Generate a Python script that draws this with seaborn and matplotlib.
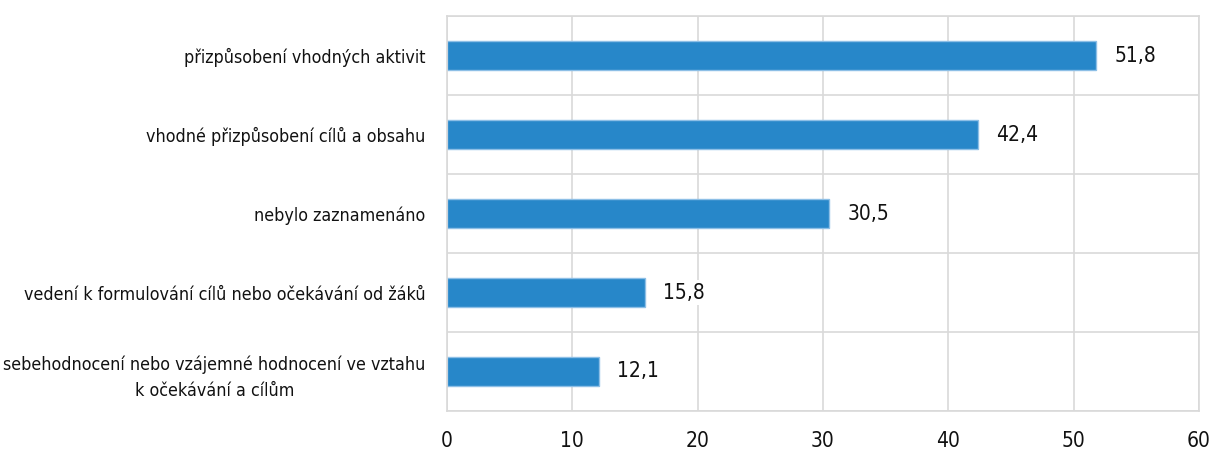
import numpy as np
import pandas as pd
import seaborn as sns
import matplotlib.pyplot as plt

categories = [
    "přizpůsobení vhodných aktivit",
    "vhodné přizpůsobení cílů a obsahu",
    "nebylo zaznamenáno",
    "vedení k formulování cílů nebo očekávání od žáků",
    "sebehodnocení nebo vzájemné hodnocení ve vztahu\nk očekávání a cílům",
]
values = [51.8, 42.4, 30.5, 15.8, 12.1]
x_ticks = [0, 10, 20, 30, 40, 50, 60]

df = pd.DataFrame({"kategorie": categories, "hodnota": values})

sns.set_style("white")
plt.rcParams["font.family"] = ["DejaVu Sans"]
plt.rcParams["font.stretch"] = "condensed"

fig = plt.figure(figsize=(12.1, 4.51), dpi=100)
ax = fig.add_axes([0.3694, 0.0887, 0.6215, 0.8758])

sns.barplot(data=df, y="kategorie", x="hodnota", orient="h", color="#2787c9",
            saturation=1, width=0.36, edgecolor="#8dbfe6", linewidth=1, ax=ax)

for i, v in enumerate(values):
    ax.annotate(f"{v:.1f}".replace(".", ","), xy=(v, i), xytext=(13, 0),
                textcoords="offset points", va="center", ha="left",
                fontsize=15, color="#111111",
                bbox=dict(boxstyle="square,pad=0.1", fc="white", ec="none"))

ax.set_xlim(0, 60)
ax.set_ylim(4.5, -0.5)
ax.set_xticks(x_ticks)
ax.set_yticks(np.arange(-0.5, 5, 1), minor=True)
ax.grid(True, axis="x", color="#d9d9d9", linewidth=1.2)
ax.grid(True, axis="y", which="minor", color="#d9d9d9", linewidth=1.2)
ax.set_axisbelow(True)
ax.tick_params(axis="both", which="both", length=0)
ax.tick_params(axis="x", pad=14.5, labelsize=15, labelcolor="#111111")
ax.tick_params(axis="y", pad=15.5, labelsize=12.8, labelcolor="#111111")
for lab in ax.get_yticklabels():
    lab.set_multialignment("center")
    lab.set_linespacing(1.6)
for s in ax.spines.values():
    s.set_color("#d9d9d9")
    s.set_linewidth(1.2)
ax.set_xlabel("")
ax.set_ylabel("")

fig.savefig("out.png", dpi=100)
